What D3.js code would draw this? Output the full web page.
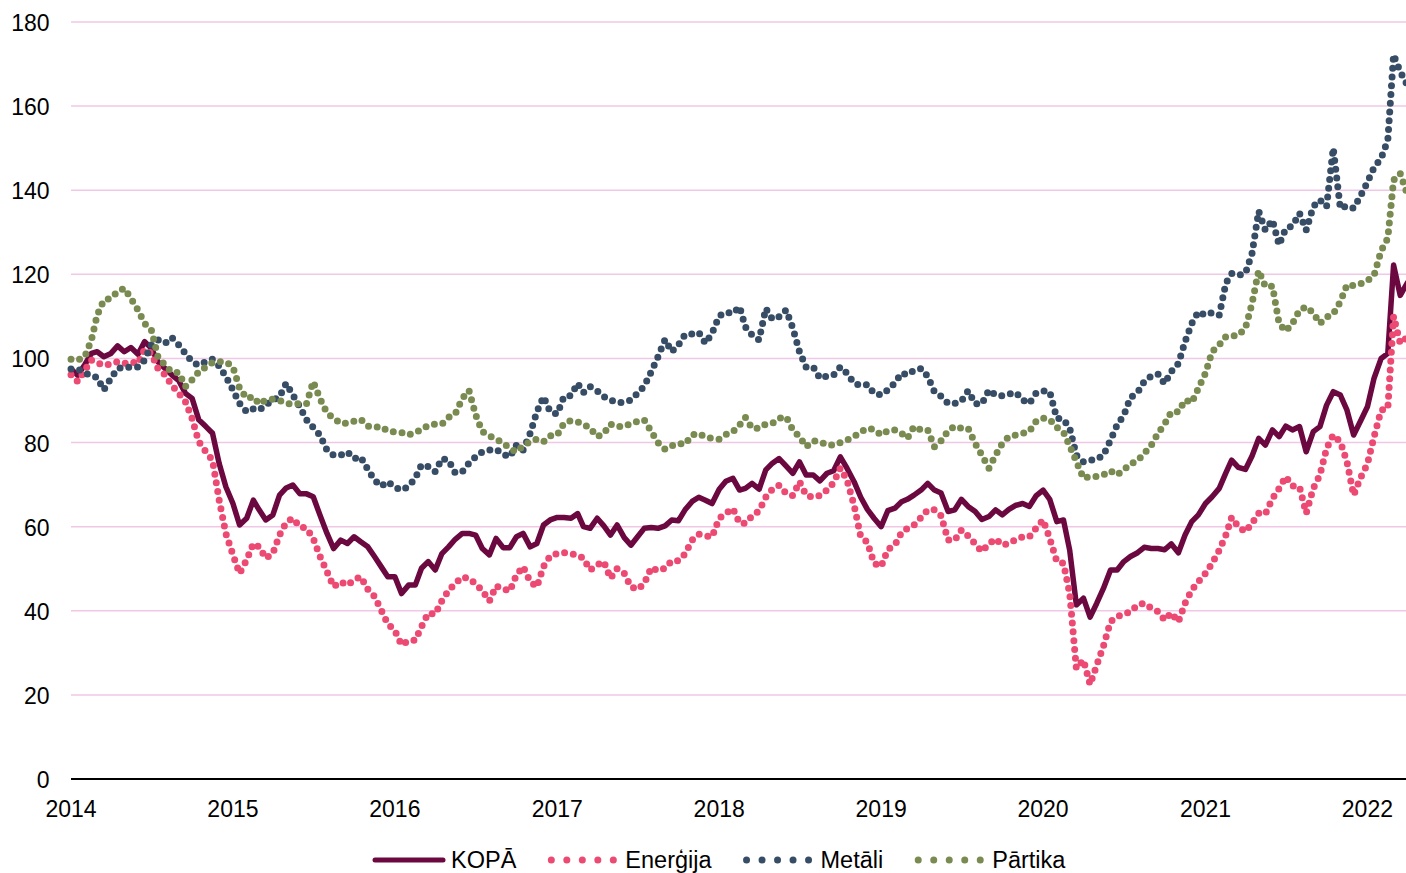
<!DOCTYPE html>
<html>
<head>
<meta charset="utf-8">
<script src="https://cdn.jsdelivr.net/npm/d3@7"></script>
<style>
  body { margin: 0; background: #ffffff; }
  svg { display: block; }
  text { font-family: "Liberation Sans", Arial, sans-serif; fill: #000; }
</style>
</head>
<body>
<svg id="chart" width="1406" height="873"></svg>
<script>
// ---- Data (semi-monthly observations: 1st and 16th of each month, Jan 2014 – Mar 2022) ----
const nPoints = 199;
const dates = d3.range(nPoints).map(i => new Date(2014, Math.floor(i / 2), i % 2 ? 16 : 1));

const yTicks = [0, 20, 40, 60, 80, 100, 120, 140, 160, 180];
const xTickYears = [2014, 2015, 2016, 2017, 2018, 2019, 2020, 2021, 2022];
const seriesNames = ["KOPĀ", "Enerģija", "Metāli", "Pārtika"];

const kopa = [
97.5,96.0,98.5,101.2,101.6,100.4,101.2,103.0,101.6,102.6,
101.0,104.0,102.4,99.2,97.6,96.1,94.7,91.7,90.5,85.4,
83.8,82.2,75.0,69.5,65.5,60.4,62.0,66.3,64.0,61.6,
62.8,67.5,69.2,69.9,67.8,67.8,67.1,62.8,58.4,54.8,
56.8,56.0,57.6,56.4,55.2,52.9,50.5,48.1,48.1,44.1,
46.1,46.1,50.1,51.7,49.7,53.6,55.2,57.0,58.4,58.4,
58.0,54.8,53.3,57.2,55.0,55.0,57.6,58.4,55.2,56.0,
60.4,61.6,62.2,62.2,62.0,63.1,60.0,59.6,62.0,60.2,
58.0,60.4,57.4,55.6,57.6,59.6,59.8,59.6,60.2,61.6,
61.4,64.0,66.0,67.0,66.3,65.5,68.9,70.8,71.5,68.7,
69.1,70.3,68.9,73.5,75.1,76.2,74.4,72.7,75.4,72.3,
72.3,70.9,72.7,73.3,76.6,73.9,70.7,67.0,64.1,62.0,
60.0,63.8,64.4,65.9,66.5,67.5,68.7,70.3,68.7,68.0,
63.6,64.0,66.5,64.8,63.6,61.7,62.4,64.0,62.8,64.1,
65.1,65.5,64.8,67.3,68.7,66.5,61.2,61.6,54.4,41.4,
43.0,38.5,41.8,45.3,49.7,49.7,51.7,52.9,53.8,55.1,
54.8,54.8,54.5,55.9,53.8,58.0,61.2,62.8,65.5,67.1,
69.1,72.8,75.8,74.1,73.6,76.8,81.0,79.4,83.0,81.4,
83.9,83.0,83.8,77.8,82.6,83.8,88.9,92.1,91.3,87.7,
81.8,85.0,88.5,95.3,100.0,101.2,122.2,115.0,118.0
];

const energija = [
96.1,94.5,97.2,99.6,99.0,98.4,98.7,99.2,98.8,99.2,
98.8,102.2,101.2,97.6,96.1,93.7,91.7,89.7,85.7,80.2,
77.8,75.8,66.3,58.4,53.3,48.9,52.1,56.0,55.2,52.5,
53.7,58.0,61.0,62.0,60.0,59.6,57.2,53.0,49.3,45.7,
46.9,46.1,47.3,48.1,45.1,43.4,40.2,36.9,35.3,31.9,
32.9,33.0,36.2,39.4,39.2,42.4,44.8,46.5,48.0,47.7,
46.4,44.8,42.3,45.9,45.2,44.7,48.5,50.5,46.9,45.7,
50.5,53.0,53.6,53.8,53.6,53.2,52.5,49.7,50.9,51.7,
47.7,50.0,48.9,45.7,45.1,46.5,50.3,49.5,50.1,51.9,
51.9,53.5,56.8,58.2,57.8,57.6,62.0,63.2,64.3,60.8,
60.8,62.5,63.8,67.0,68.9,69.8,67.9,67.4,70.7,67.5,
67.0,67.4,68.7,70.5,73.9,71.1,65.1,57.6,56.3,51.3,
50.5,54.6,55.6,58.6,59.6,60.4,62.2,64.0,64.0,62.6,
56.8,56.8,59.2,57.8,55.9,54.1,55.9,57.1,55.6,56.0,
57.0,57.6,57.6,59.6,61.6,57.2,51.7,51.3,44.1,26.3,
28.3,22.5,27.1,31.6,37.4,38.6,39.2,39.8,41.4,41.8,
40.6,39.8,37.8,39.5,37.4,41.8,44.9,46.9,48.9,51.3,
54.4,58.0,62.2,60.0,58.8,60.8,63.2,63.0,66.7,69.1,
71.9,69.7,69.5,63.2,69.1,72.3,78.6,81.8,80.2,75.4,
67.5,71.5,74.9,81.4,87.7,88.1,110.0,103.6,105.0
];

const metali = [
97.5,97.5,96.6,95.8,95.5,92.5,95.3,97.6,98.0,97.9,
98.0,99.6,103.2,104.4,103.6,105.0,103.2,101.2,99.2,98.4,
99.2,99.8,98.2,95.7,92.5,89.3,87.3,88.0,87.7,88.9,
90.1,90.9,94.1,91.3,88.5,85.4,83.6,81.8,78.2,77.0,
77.0,77.8,76.2,76.6,73.6,71.1,69.6,70.7,69.4,68.7,
69.6,71.5,74.7,74.3,73.1,76.2,75.8,72.8,73.1,75.1,
76.6,77.8,78.2,78.4,77.2,76.6,79.4,78.2,82.2,87.3,
90.9,87.3,86.8,90.9,91.2,94.1,91.9,93.3,92.3,90.9,
90.1,89.5,89.6,90.1,91.7,93.4,96.9,100.4,104.5,101.6,
103.2,105.7,105.8,106.2,103.6,106.0,110.1,111.0,110.7,112.3,
107.5,105.6,104.4,111.9,109.3,109.9,111.5,107.2,101.6,97.9,
98.0,95.3,95.8,96.1,98.0,96.5,94.1,93.6,93.8,91.7,
91.3,92.5,94.2,96.5,96.1,97.2,97.6,95.7,92.1,91.0,
89.3,89.3,89.9,92.3,89.2,89.2,92.5,91.3,91.1,91.5,
91.9,90.1,89.3,91.7,92.3,92.1,85.8,85.5,83.4,77.0,
75.4,75.8,76.0,77.0,80.6,84.2,86.5,90.7,91.9,94.5,
95.8,96.3,94.0,96.9,98.8,104.0,108.3,111.1,110.3,110.9,
110.3,117.9,120.2,119.8,120.2,125.0,135.0,130.5,132.9,127.0,
130.9,131.5,134.5,130.5,136.1,137.7,136.1,150.0,135.7,136.3,
135.7,138.5,141.9,145.4,147.6,151.9,172.2,168.2,165.0
];

const partika = [
99.8,99.6,100.4,104.4,110.3,113.9,114.3,115.9,116.7,114.3,
111.5,108.3,106.8,100.4,98.4,96.8,96.6,93.3,94.9,96.8,
98.0,99.0,99.2,99.2,98.0,92.9,90.5,90.9,89.2,90.1,
90.3,90.0,89.3,89.1,89.3,89.3,94.5,90.5,87.0,85.8,
84.5,84.6,85.1,85.5,83.9,83.6,83.8,82.7,82.5,82.4,
81.8,82.4,83.1,84.1,84.4,84.4,86.0,86.8,90.5,92.4,
86.6,82.6,81.6,80.8,79.9,78.6,77.8,79.2,80.2,80.8,
80.2,81.6,81.8,84.6,85.2,84.9,84.4,83.4,81.4,82.2,
84.4,83.8,83.8,84.6,85.0,85.4,82.6,80.0,78.4,79.2,
79.8,79.6,81.8,82.2,81.3,81.0,80.8,81.9,82.6,84.2,
86.0,83.4,83.4,84.4,84.6,85.8,86.1,83.0,81.4,79.0,
80.4,80.2,79.4,79.4,80.0,80.6,81.4,82.5,83.4,83.1,
81.8,82.8,83.0,82.2,81.0,83.8,83.0,83.0,79.0,80.4,
82.8,83.9,83.4,83.4,79.8,77.0,73.9,77.0,79.8,81.4,
81.8,82.2,82.6,85.0,85.8,85.5,83.6,82.5,79.2,75.5,
71.5,71.9,71.9,72.3,73.3,72.3,73.5,74.9,75.7,77.4,
79.4,82.2,84.4,87.3,87.3,90.1,89.5,92.9,96.5,101.6,
103.2,105.2,105.3,105.5,107.2,113.1,120.9,117.1,117.2,108.3,
106.5,108.3,111.5,112.3,110.8,108.3,109.8,110.6,113.5,117.5,
117.3,117.7,118.5,119.8,125.6,128.6,142.4,144.0,139.0
];

// ---- Build series table ----
const seriesValues = [kopa, energija, metali, partika];
const seriesStyles = [
  { color: "#6b0840", width: 5.5, dash: null },
  { color: "#ec4a72", width: 7, dash: "0,8.8" },
  { color: "#374d66", width: 7, dash: "0,8.8" },
  { color: "#7a8b52", width: 7, dash: "0,8.8" }
];
const series = seriesNames.map((name, k) => ({
  name,
  style: seriesStyles[k],
  points: dates.map((d, i) => ({ date: d, value: seriesValues[k][i] }))
}));

// ---- Layout ----
const plot = { left: 71, right: 1406, top: 22, bottom: 779 };
const fontSize = 23;
const legendFontSize = 23.5;

const svg = d3.select("#chart");

const x = d3.scaleTime()
  .domain([new Date(2014, 0, 1), new Date(2022, 2, 29)])
  .range([plot.left, plot.right]);
const y = d3.scaleLinear()
  .domain([0, 180])
  .range([plot.bottom, plot.top]);

// gridlines
svg.append("g")
  .selectAll("line")
  .data(yTicks.filter(v => v > 0))
  .join("line")
  .attr("x1", plot.left).attr("x2", plot.right)
  .attr("y1", d => y(d)).attr("y2", d => y(d))
  .attr("stroke", "#f0c8e6")
  .attr("stroke-width", 1.5);

// y labels
svg.append("g")
  .selectAll("text")
  .data(yTicks)
  .join("text")
  .attr("x", 49.5)
  .attr("y", d => y(d) + 9)
  .attr("text-anchor", "end")
  .style("font-size", fontSize + "px")
  .text(d => d);

// x labels
svg.append("g")
  .selectAll("text")
  .data(xTickYears)
  .join("text")
  .attr("x", d => x(new Date(d, 0, 1)))
  .attr("y", 817)
  .attr("text-anchor", "middle")
  .style("font-size", fontSize + "px")
  .text(d => d);

// clip
svg.append("clipPath").attr("id", "plotClip")
  .append("rect")
  .attr("x", plot.left - 4).attr("y", 0)
  .attr("width", plot.right - plot.left + 4).attr("height", plot.bottom);

const line = d3.line()
  .x(d => x(d.date))
  .y(d => y(d.value))
  .curve(d3.curveLinear);

const gSeries = svg.append("g").attr("clip-path", "url(#plotClip)");
gSeries.selectAll("path")
  .data(series)
  .join("path")
  .attr("d", s => line(s.points))
  .attr("fill", "none")
  .attr("stroke", s => s.style.color)
  .attr("stroke-width", s => s.style.width)
  .attr("stroke-linecap", "round")
  .attr("stroke-linejoin", "round")
  .attr("stroke-dasharray", s => s.style.dash);

// x axis line
svg.append("line")
  .attr("x1", plot.left).attr("x2", plot.right)
  .attr("y1", y(0)).attr("y2", y(0))
  .attr("stroke", "#000")
  .attr("stroke-width", 2);

// legend
const legend = svg.append("g");
let lx = 373;
const ly = 860;
series.forEach((s, k) => {
  const g = legend.append("g");
  if (!s.style.dash) {
    g.append("line")
      .attr("x1", lx + 2).attr("x2", lx + 70)
      .attr("y1", ly).attr("y2", ly)
      .attr("stroke", s.style.color)
      .attr("stroke-width", 5)
      .attr("stroke-linecap", "round");
  } else {
    g.selectAll("circle")
      .data(d3.range(5))
      .join("circle")
      .attr("cx", j => lx + 4 + j * 15.5)
      .attr("cy", ly)
      .attr("r", 3.5)
      .attr("fill", s.style.color);
  }
  const t = g.append("text")
    .attr("x", lx + 78)
    .attr("y", ly + 8)
    .style("font-size", legendFontSize + "px")
    .text(s.name);
  lx = lx + 78 + t.node().getComputedTextLength() + 31;
});
</script>
</body>
</html>
